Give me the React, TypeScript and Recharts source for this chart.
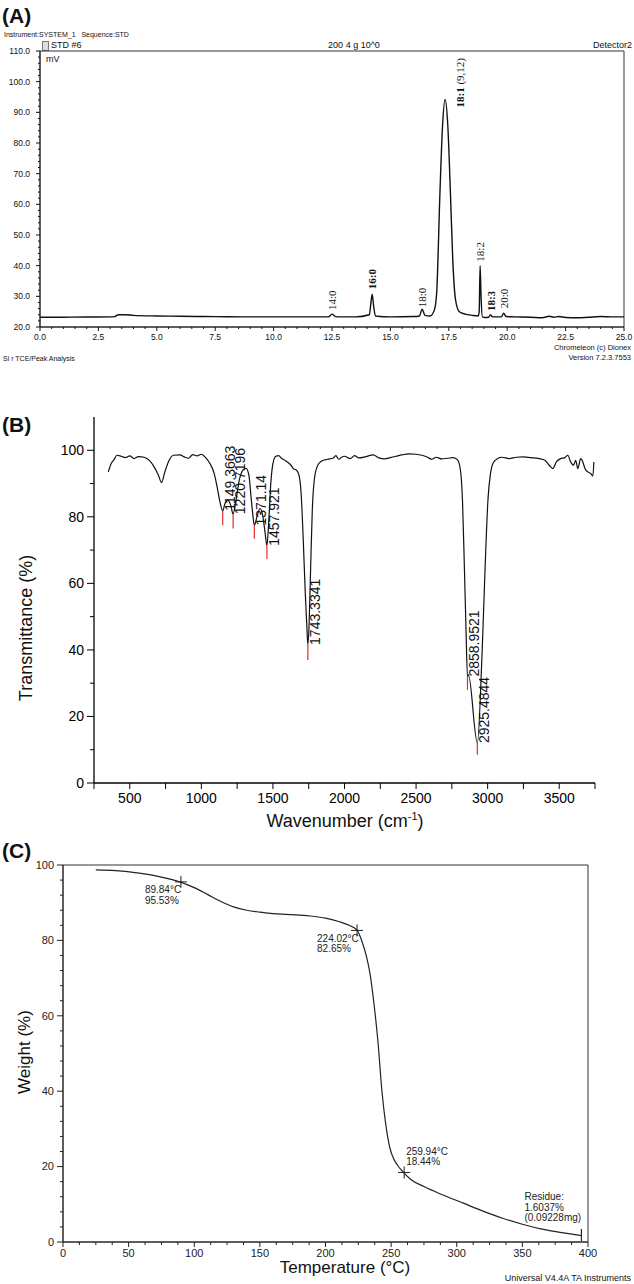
import React from "react";
import {
  LineChart,
  ComposedChart,
  Line,
  Scatter,
  XAxis,
  YAxis,
  ReferenceArea,
  ReferenceDot,
  ReferenceLine,
} from "recharts";

const SANS = '"Liberation Sans", Arial, sans-serif';
const SERIF = '"Liberation Serif", "Times New Roman", serif';

// (A) GC chromatogram, retention time (min) vs signal (mV)
const gcTime = [
  0, 1, 2, 3, 3.2, 3.35, 3.6, 4, 5, 6, 7, 8, 9, 10, 11, 12, 12.35, 12.5, 12.65,
  12.9, 13.5, 14.1, 14.16, 14.22, 14.28, 14.36, 15, 16, 16.24, 16.36, 16.48, 16.7,
  16.88, 16.98, 17.12, 17.23, 17.34, 17.46, 17.57, 17.67, 17.79, 17.95, 18.2, 18.5,
  18.76, 18.8, 18.84, 18.88, 18.94, 19.05, 19.2, 19.29, 19.38, 19.75, 19.85, 19.95,
  20.3, 21, 21.5, 21.8, 22, 22.2, 22.5, 23, 23.5, 24, 24.5, 25,
];
const gcSignal = [
  23.2, 23.2, 23.25, 23.3, 23.4, 24.0, 24.0, 23.8, 23.6, 23.5, 23.4, 23.35, 23.3,
  23.3, 23.3, 23.3, 23.3, 24.2, 23.4, 23.3, 23.3, 24.0, 27.5, 30.7, 27.0, 23.6,
  23.3, 23.4, 23.6, 25.8, 23.8, 23.6, 25.5, 31.0, 63.6, 85.3, 94.2, 85.3, 63.6,
  41.8, 28.8, 25.0, 24.2, 23.8, 23.6, 25.0, 40.0, 30.0, 23.2, 23.1, 23.2, 23.9,
  23.3, 23.3, 24.5, 23.4, 23.3, 23.2, 23.0, 23.5, 23.2, 23.4, 23.1, 23.0, 23.2,
  23.4, 23.3, 23.3,
];
const gcPeakNames = ["14:0", "16:0", "18:0", "18:1", "18:2", "18:3", "20:0"];
const gcPeakNote = ["", "", "", " (9,12)", "", "", ""];
const gcPeakTime = [12.5, 14.22, 16.36, 17.34, 18.84, 19.29, 19.85];
const gcPeakHeight = [24.2, 30.7, 25.8, 94.2, 40.0, 23.9, 24.5];
const gcYLabels = [20, 30, 40, 50, 60, 70, 80, 90, 100, 110];
const gcXLabels = [0, 2.5, 5, 7.5, 10, 12.5, 15, 17.5, 20, 22.5, 25];

// (B) FTIR spectrum
const irWavenumber = [
  350, 370, 390, 410, 440, 470, 500, 530, 560, 600, 640, 670, 700, 722, 745, 775,
  805, 850, 880, 910, 940, 970, 1000, 1030, 1060, 1090, 1110, 1130, 1149, 1165,
  1185, 1205, 1222, 1240, 1265, 1290, 1312, 1332, 1347, 1360, 1370, 1388, 1410,
  1430, 1446, 1458, 1470, 1485, 1500, 1520, 1540, 1560, 1590, 1620, 1645, 1665,
  1682, 1697, 1712, 1726, 1736, 1744, 1753, 1763, 1775, 1790, 1810, 1840, 1880,
  1920, 1940, 1960, 1980, 2000, 2040, 2070, 2100, 2150, 2200, 2240, 2280, 2320,
  2360, 2400, 2450, 2500, 2540, 2580, 2610, 2640, 2680, 2720, 2760, 2790, 2810,
  2825, 2838, 2849, 2859, 2866, 2928, 2962, 2985, 3002, 3020, 3040, 3070, 3100,
  3150, 3200, 3250, 3300, 3360, 3400, 3430, 3455, 3480, 3510, 3540, 3560, 3580,
  3600, 3615, 3630, 3650, 3665, 3680, 3700, 3720, 3735, 3742,
];
const irTransmittance = [
  93.5, 96.0, 97.2, 98.5, 98.2, 97.8, 98.3, 97.5, 98.1, 97.9, 96.8, 95.0, 92.5,
  90.3, 93.5, 97.0, 98.5, 98.6, 98.0, 97.6, 98.7, 98.3, 98.8, 97.8, 96.0, 93.0,
  89.0, 84.5, 81.8, 84.0, 85.0, 83.5, 80.8, 84.5, 91.0, 94.0, 94.6, 92.5, 86.0,
  80.5, 77.4, 80.0, 82.5, 80.0, 75.0, 71.3, 78.0, 90.0, 96.0, 98.2, 98.4, 97.6,
  96.8, 95.8, 94.4, 94.0, 92.5, 87.0, 73.0, 57.0, 48.0, 41.5, 48.0, 64.0, 82.0,
  91.5, 95.2, 96.8, 97.3, 97.6, 98.4, 97.3, 97.9, 98.2, 97.5, 98.4, 97.7, 98.1,
  98.6, 97.7, 97.4, 97.8, 98.2, 98.6, 98.9, 98.8, 98.5, 97.9, 97.3, 97.9, 97.4,
  97.6, 97.8, 97.1, 94.0, 84.0, 64.0, 46.0, 32.0, 32.5, 12.0, 40.0, 68.0, 85.0,
  93.0, 96.3, 97.5, 97.9, 97.5, 97.9, 98.0, 97.8, 97.5, 97.0, 95.5, 94.5, 96.5,
  97.5, 97.8, 98.5, 96.5, 95.5, 97.0, 94.5, 97.5, 96.5, 94.5, 93.5, 93.0, 92.3,
  96.5,
];
const irPeakNames = ["1149.3663", "1220.7196", "1371.14", "1457.921", "1743.3341", "2858.9521", "2925.4844"];
const irPeakWn = [1149, 1222, 1370, 1458, 1744, 2859, 2928];
const irPeakT = [81.8, 80.8, 77.4, 71.3, 41.5, 32.0, 12.0];
const irPeakRedT = [77.5, 76.5, 73.4, 67.3, 37.0, 28.0, 8.5];
const irYLabels = [0, 20, 40, 60, 80, 100];
const irXTicks = [250, 500, 750, 1000, 1250, 1500, 1750, 2000, 2250, 2500, 2750, 3000, 3250, 3500, 3750];

// (C) TGA curve
const tgaTemp = [
  25, 40, 55, 70, 80, 90, 100, 110, 120, 130, 140, 150, 160, 170, 180, 190, 200,
  210, 218, 224, 228, 231, 234, 237, 240, 243, 246, 249, 252, 255, 258, 265, 275,
  290, 305, 320, 335, 350, 365, 380, 395,
];
const tgaWeight = [
  98.7, 98.5, 98.0, 97.2, 96.4, 95.4, 94.0, 92.2, 90.4, 88.9, 88.0, 87.5, 87.1,
  86.9, 86.7, 86.4, 85.9, 85.0, 84.0, 82.7, 79.5, 76.0, 71.0, 63.0, 53.0, 40.0,
  31.0, 25.0, 22.0, 20.3, 19.0, 16.6, 14.7, 12.4, 10.3, 8.2, 6.3, 4.7, 3.4, 2.5, 1.7,
];
const tgaMarkTemp = [89.84, 224.02, 259.94];
const tgaMarkWeight = [95.53, 82.65, 18.44];
const tgaMarkText = [
  ["89.84°C", "95.53%"],
  ["224.02°C", "82.65%"],
  ["259.94°C", "18.44%"],
];
const tgaResidueTemp = 395;
const tgaResidueWeight = 1.6037;
const tgaResidueText = ["Residue:", "1.6037%", "(0.09228mg)"];
const tgaYLabels = [0, 20, 40, 60, 80, 100];
const tgaXLabels = [0, 50, 100, 150, 200, 250, 300, 350, 400];

const gcData = gcTime.map((t, i) => ({ t, v: gcSignal[i] }));
const irData = irWavenumber.map((w, i) => ({ w, t: irTransmittance[i] }));
const tgaData = tgaTemp.map((t, i) => ({ t, w: tgaWeight[i] }));
const tgaMarks = tgaMarkTemp.map((t, i) => ({ t, w: tgaMarkWeight[i] }));

// minor ticks between the labelled ones
const subdivide = (majors: number[], parts: number) =>
  majors.flatMap((m, i) =>
    i === majors.length - 1
      ? [m]
      : Array.from({ length: parts }, (_, k) => m + ((majors[i + 1] - m) * k) / parts)
  );
const isOn = (step: number) => (v: number) => Math.abs(v / step - Math.round(v / step)) < 1e-6;

type TickCfg = {
  side: "left" | "bottom";
  major: (v: number) => boolean;
  big: number;
  small: number;
  gap: number;
  size: number;
  fmt: (v: number) => string;
  color: string;
};

const makeTick = (c: TickCfg) => (p: any) => {
  const { x, y, payload } = p;
  const v = payload.value;
  const m = c.major(v);
  const len = m ? c.big : c.small;
  if (c.side === "left") {
    return (
      <g>
        <line x1={x} y1={y} x2={x - len} y2={y} stroke={c.color} strokeWidth={1} />
        {m && (
          <text x={x - c.big - c.gap} y={y} dy="0.35em" textAnchor="end" fontSize={c.size} fill={c.color}>
            {c.fmt(v)}
          </text>
        )}
      </g>
    );
  }
  return (
    <g>
      <line x1={x} y1={y} x2={x} y2={y + len} stroke={c.color} strokeWidth={1} />
      {m && (
        <text x={x} y={y + c.big + c.gap} dy="0.8em" textAnchor="middle" fontSize={c.size} fill={c.color}>
          {c.fmt(v)}
        </text>
      )}
    </g>
  );
};

const gcXTick = makeTick({ side: "bottom", major: isOn(2.5), big: 4, small: 2, gap: 2, size: 8.5, fmt: (v) => v.toFixed(1), color: "#111" });
const gcYTick = makeTick({ side: "left", major: isOn(10), big: 4, small: 2, gap: 6, size: 8.5, fmt: (v) => v.toFixed(1), color: "#111" });
const irXTick = makeTick({ side: "bottom", major: isOn(500), big: 6, small: 6, gap: 3, size: 14, fmt: (v) => String(v), color: "#000" });
const irYTick = makeTick({ side: "left", major: isOn(20), big: 7, small: 4, gap: 3, size: 14, fmt: (v) => String(v), color: "#000" });
const tgaXTick = makeTick({ side: "bottom", major: isOn(50), big: 5, small: 3, gap: 1, size: 11, fmt: (v) => String(v), color: "#222" });
const tgaYTick = makeTick({ side: "left", major: isOn(20), big: 6, small: 3, gap: 3, size: 11, fmt: (v) => String(v), color: "#222" });

const VText = ({ viewBox, text, note, dx, dy, size, family, bold }: any) => {
  if (!viewBox) return null;
  const x = viewBox.x + dx;
  const y = viewBox.y + dy;
  return (
    <text x={x} y={y} transform={`rotate(-90 ${x} ${y})`} fontSize={size} fontFamily={family} fill="#111">
      <tspan fontWeight={bold ? 700 : 400}>{text}</tspan>
      {note ? <tspan>{note}</tspan> : null}
    </text>
  );
};

const Lines = ({ viewBox, lines, dx, dy }: any) => {
  if (!viewBox) return null;
  const x = viewBox.x + dx;
  const y = viewBox.y + dy;
  return (
    <text fontSize={10} fill="#222">
      {lines.map((l: string, i: number) => (
        <tspan key={i} x={x} y={y + i * 10.5} dy="0.35em">
          {l}
        </tspan>
      ))}
    </text>
  );
};

const Cross = (p: any) => (
  <path d={`M${p.cx - 6},${p.cy}H${p.cx + 6}M${p.cx},${p.cy - 6}V${p.cy + 6}`} stroke="#222" strokeWidth={1} />
);
const Bar = (p: any) => <path d={`M${p.cx},${p.cy - 7}V${p.cy + 5}`} stroke="#222" strokeWidth={1.2} />;

const T = ({ x, y, size, anchor = "start", bold, children, family = SANS }: any) => (
  <div
    style={{
      position: "absolute",
      left: x,
      top: y,
      fontSize: size,
      lineHeight: 1,
      fontWeight: bold ? 700 : 400,
      fontFamily: family,
      whiteSpace: "nowrap",
      transform: `translate(${anchor === "start" ? "0" : anchor === "middle" ? "-50%" : "-100%"}, -50%)`,
    }}
  >
    {children}
  </div>
);

const VT = ({ x, y, size, children }: any) => (
  <div
    style={{
      position: "absolute",
      left: x,
      top: y,
      fontSize: size,
      lineHeight: 1,
      whiteSpace: "nowrap",
      transform: "translate(-50%, -50%) rotate(-90deg)",
    }}
  >
    {children}
  </div>
);

// label offsets in px from the peak apex
const gcLabelShift = [
  [4, -4],
  [4, -5],
  [4, -2],
  [19, 8],
  [4, -4],
  [4, -4],
  [4, -5],
];
const gcLabelBold = [false, true, false, true, false, true, false];
const tgaTextShift = [
  [-36, 8],
  [-40, 8],
  [2, -21],
];

export default function App() {
  return (
    <div style={{ position: "absolute", left: 0, top: 0, width: 634, height: 1284, background: "#fff", fontFamily: SANS, color: "#111" }}>
      {/* (A) */}
      <T x={2} y={15} size={21} bold>(A)</T>
      <T x={4} y={34} size={7}>Instrument:SYSTEM_1&nbsp;&nbsp; Sequence:STD</T>
      <div style={{ position: "absolute", left: 42, top: 41, width: 5, height: 8, border: "1px solid #777", background: "#ddd" }} />
      <T x={51} y={45} size={9}>STD #6</T>
      <T x={354} y={45} size={9} anchor="middle">200 4 g 10^0</T>
      <T x={632} y={45} size={9} anchor="end">Detector2</T>
      <T x={46} y={59} size={9}>mV</T>
      <T x={3} y={358} size={7}>Si r TCE/Peak Analysis</T>
      <T x={631} y={348} size={7.5} anchor="end">Chromeleon (c) Dionex</T>
      <T x={631} y={358} size={7.5} anchor="end">Version 7.2.3.7553</T>
      <div style={{ position: "absolute", left: 0, top: 0 }}>
        <LineChart width={634} height={346} data={gcData} margin={{ top: 51, right: 10, left: 0, bottom: 0 }}>
          <XAxis
            dataKey="t"
            type="number"
            domain={[0, 25]}
            ticks={subdivide(gcXLabels, 5)}
            interval={0}
            height={19}
            tickSize={0}
            tickMargin={0}
            tick={gcXTick}
            axisLine={{ stroke: "#222" }}
          />
          <YAxis
            type="number"
            domain={[20, 110]}
            ticks={subdivide(gcYLabels, 5)}
            interval={0}
            width={40}
            tickSize={0}
            tickMargin={0}
            tick={gcYTick}
            axisLine={{ stroke: "#222" }}
          />
          <ReferenceArea x1={0} x2={25} y1={20} y2={110} fill="none" stroke="#333" strokeWidth={1} />
          <Line type="monotone" dataKey="v" stroke="#111" strokeWidth={1.4} dot={false} isAnimationActive={false} />
          {gcPeakNames.map((n, i) => (
            <ReferenceDot
              key={n}
              x={gcPeakTime[i]}
              y={gcPeakHeight[i]}
              r={0}
              fill="none"
              stroke="none"
              label={(p: any) => (
                <VText
                  viewBox={p.viewBox}
                  text={n}
                  note={gcPeakNote[i]}
                  bold={gcLabelBold[i]}
                  dx={gcLabelShift[i][0]}
                  dy={gcLabelShift[i][1]}
                  size={11}
                  family={SERIF}
                />
              )}
            />
          ))}
        </LineChart>
      </div>

      {/* (B) */}
      <T x={2} y={424} size={21} bold>(B)</T>
      <VT x={26} y={628} size={18}>Transmittance (%)</VT>
      <T x={345} y={820} size={18} anchor="middle">
        Wavenumber (cm<sup style={{ fontSize: 11 }}>-1</sup>)
      </T>
      <div style={{ position: "absolute", left: 0, top: 400 }}>
        <LineChart width={634} height={430} data={irData} margin={{ top: 17, right: 39, left: 0, bottom: 0 }}>
          <XAxis
            dataKey="w"
            type="number"
            domain={[250, 3750]}
            ticks={irXTicks}
            interval={0}
            height={47}
            tickSize={0}
            tickMargin={0}
            tick={irXTick}
            axisLine={{ stroke: "#000", strokeWidth: 1.3 }}
          />
          <YAxis
            type="number"
            domain={[0, 110]}
            ticks={subdivide(irYLabels, 2)}
            interval={0}
            width={94}
            tickSize={0}
            tickMargin={0}
            tick={irYTick}
            axisLine={{ stroke: "#000", strokeWidth: 1.3 }}
          />
          <Line type="monotone" dataKey="t" stroke="#111" strokeWidth={1.2} dot={false} isAnimationActive={false} />
          {irPeakWn.map((w, i) => (
            <ReferenceLine
              key={"r" + w}
              segment={[
                { x: w, y: irPeakT[i] },
                { x: w, y: irPeakRedT[i] },
              ]}
              stroke="#e0302a"
              strokeWidth={1.2}
            />
          ))}
          {irPeakNames.map((n, i) => (
            <ReferenceDot
              key={n}
              x={irPeakWn[i]}
              y={irPeakT[i]}
              r={0}
              fill="none"
              stroke="none"
              label={(p: any) => <VText viewBox={p.viewBox} text={n} dx={12} dy={0} size={14} family={SANS} />}
            />
          ))}
        </LineChart>
      </div>

      {/* (C) */}
      <T x={2} y={850} size={21} bold>(C)</T>
      <VT x={24} y={1052} size={17}>Weight (%)</VT>
      <T x={345} y={1267} size={17} anchor="middle">Temperature (°C)</T>
      <T x={631} y={1278} size={9} anchor="end">Universal V4.4A TA Instruments</T>
      <div style={{ position: "absolute", left: 0, top: 840 }}>
        <ComposedChart width={634} height={420} data={tgaData} margin={{ top: 25, right: 46, left: 0, bottom: 0 }}>
          <XAxis
            dataKey="t"
            type="number"
            domain={[0, 400]}
            ticks={subdivide(tgaXLabels, 4)}
            interval={0}
            height={18}
            tickSize={0}
            tickMargin={0}
            tick={tgaXTick}
            axisLine={{ stroke: "#222" }}
          />
          <YAxis
            dataKey="w"
            type="number"
            domain={[0, 100]}
            ticks={subdivide(tgaYLabels, 5)}
            interval={0}
            width={63}
            tickSize={0}
            tickMargin={0}
            tick={tgaYTick}
            axisLine={{ stroke: "#222" }}
          />
          <ReferenceArea x1={0} x2={400} y1={0} y2={100} fill="none" stroke="#333" strokeWidth={1} />
          <Line type="monotone" dataKey="w" stroke="#222" strokeWidth={1.2} dot={false} isAnimationActive={false} />
          <Scatter data={tgaMarks} dataKey="w" shape={Cross} isAnimationActive={false} />
          {tgaMarkText.map((lines, i) => (
            <ReferenceDot
              key={lines[0]}
              x={tgaMarkTemp[i]}
              y={tgaMarkWeight[i]}
              r={0}
              fill="none"
              stroke="none"
              label={(p: any) => <Lines viewBox={p.viewBox} lines={lines} dx={tgaTextShift[i][0]} dy={tgaTextShift[i][1]} />}
            />
          ))}
          <ReferenceDot
            x={tgaResidueTemp}
            y={tgaResidueWeight}
            r={1}
            shape={Bar}
            label={(p: any) => <Lines viewBox={p.viewBox} lines={tgaResidueText} dx={-56} dy={-38} />}
          />
        </ComposedChart>
      </div>
    </div>
  );
}
